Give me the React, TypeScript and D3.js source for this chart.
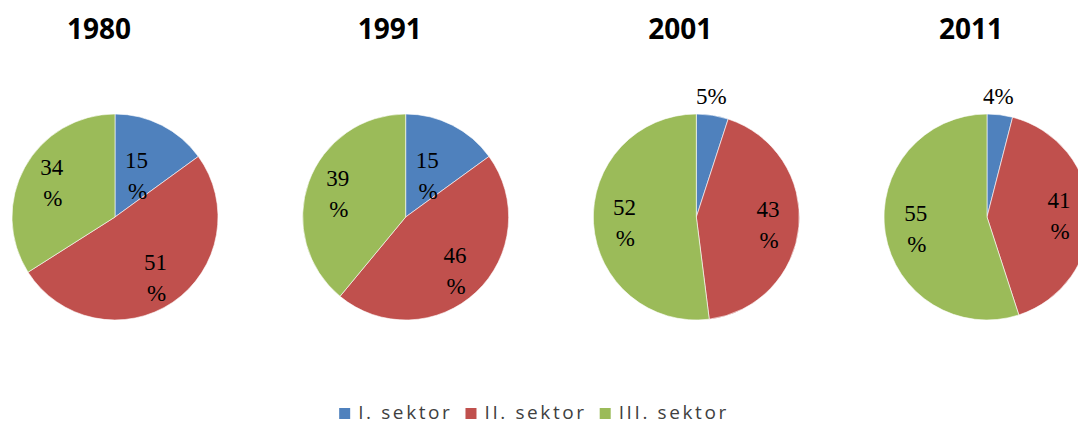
import { useRef, useEffect } from "react";
import * as d3 from "d3";

const years = ["1980", "1991", "2001", "2011"];
const sectors = ["I. sektor", "II. sektor", "III. sektor"];
const shares1980 = [15, 51, 34];
const shares1991 = [15, 46, 39];
const shares2001 = [5, 43, 52];
const shares2011 = [4, 41, 55];
const colors = ["#4F81BD", "#C0504D", "#9BBB59"];

export default function App() {
  const ref = useRef<HTMLDivElement>(null);

  function init() {
    const el = ref.current!;
    el.innerHTML = "";

    const width = 1078,
      height = 425;
    const r = 103;
    const cy = 217;

    const svg = d3
      .select(el)
      .append("svg")
      .attr("width", width)
      .attr("height", height)
      .style("position", "absolute")
      .style("left", "0px")
      .style("top", "0px")
      .style("background", "#fff");

    const all = [shares1980, shares1991, shares2001, shares2011];

    // pie centres spaced along x
    const x = d3.scalePoint<string>().domain(years).range([115, 987]);
    const color = d3.scaleOrdinal<string>().domain(sectors).range(colors);

    const pie = d3
      .pie<number>()
      .sort(null)
      .value((d) => d);
    const arc = d3.arc<d3.PieArcDatum<number>>().innerRadius(0).outerRadius(r);
    // labels for big slices sit further out than for the 15 % ones
    const bigArc = d3
      .arc<d3.PieArcDatum<number>>()
      .innerRadius(r * 1.4)
      .outerRadius(0);
    const smallArc = d3
      .arc<d3.PieArcDatum<number>>()
      .innerRadius(r * 0.92)
      .outerRadius(0);
    const outerArc = d3
      .arc<d3.PieArcDatum<number>>()
      .innerRadius(r + 12)
      .outerRadius(r + 12);

    years.forEach((yr, i) => {
      const cx = x(yr)!;

      // title
      svg
        .append("text")
        .attr("x", cx - 16)
        .attr("y", 39)
        .attr("text-anchor", "middle")
        .style("font-family", "'Open Sans', sans-serif")
        .style("font-weight", "bold")
        .style("font-size", "28px")
        .text(yr);

      const g = svg.append("g").attr("transform", `translate(${cx}, ${cy})`);
      const arcs = pie(all[i]);

      g.selectAll("path")
        .data(arcs)
        .join("path")
        .attr("d", arc)
        .attr("fill", (d, j) => color(sectors[j]))
        .attr("stroke", "#fff")
        .attr("stroke-width", 0.6);

      arcs.forEach((d) => {
        if (d.data < 10) {
          const [lx, ly] = outerArc.centroid(d);
          g.append("text")
            .attr("x", lx - 3)
            .attr("y", ly + 1)
            .attr("text-anchor", "middle")
            .style("font-family", "'Liberation Serif', serif")
            .style("font-size", "23px")
            .text(`${d.data}%`);
        } else {
          const [lx, ly] = (d.data >= 30 ? bigArc : smallArc).centroid(d);
          const t = g
            .append("text")
            .attr("text-anchor", "middle")
            .style("font-family", "'Liberation Serif', serif")
            .style("font-size", "23px");
          t.append("tspan").attr("x", lx).attr("y", ly - 7).text(d.data);
          t.append("tspan").attr("x", lx + 1).attr("y", ly + 24).text("%");
        }
      });
    });

    // Legend
    const legend = svg.append("g");
    let pos = 0;
    sectors.forEach((s) => {
      const item = legend.append("g").attr("transform", `translate(${pos}, 0)`);
      item
        .append("rect")
        .attr("x", 0)
        .attr("y", -11)
        .attr("width", 11)
        .attr("height", 11)
        .attr("fill", color(s));
      const t = item
        .append("text")
        .attr("x", 19)
        .attr("y", 0)
        .style("font-family", "'Open Sans', sans-serif")
        .style("font-size", "19px")
        .style("letter-spacing", "2.6px")
        .attr("fill", "#404040")
        .text(s);
      const w = (t.node() as SVGTextElement).getComputedTextLength();
      pos += 19 + w + 13;
    });
    const total = pos - 13;
    legend.attr("transform", `translate(${534 - total / 2}, 419)`);
  }

  useEffect(init, []);

  return <div ref={ref}></div>;
}
